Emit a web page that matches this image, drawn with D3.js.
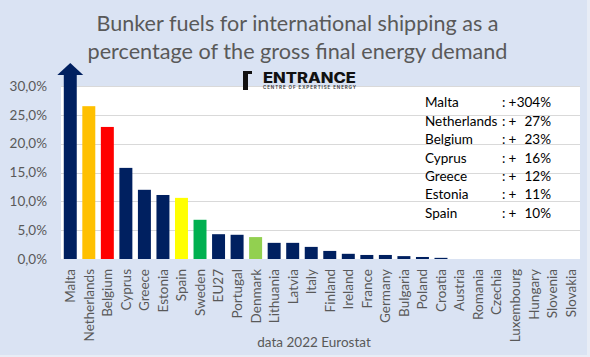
<!DOCTYPE html>
<html>
<head>
<meta charset="utf-8">
<script src="https://cdn.jsdelivr.net/npm/d3@7"></script>
<style>
  html, body { margin: 0; padding: 0; background: #e8edf6; }
  svg { display: block; }
</style>
</head>
<body>
<svg id="chart" width="590" height="357"></svg>
<script>
// ---- data ----
const categories = ["Malta","Netherlands","Belgium","Cyprus","Greece","Estonia","Spain","Sweden","EU27","Portugal","Denmark","Lithuania","Latvia","Italy","Finland","Ireland","France","Germany","Bulgaria","Poland","Croatia","Austria","Romania","Czechia","Luxembourg","Hungary","Slovenia","Slovakia"];
const values = [304, 26.5, 22.9, 15.8, 12.0, 11.1, 10.6, 6.8, 4.3, 4.2, 3.8, 2.8, 2.8, 2.1, 1.4, 0.9, 0.7, 0.7, 0.5, 0.35, 0.2, 0, 0, 0, 0, 0, 0, 0];
const yTicks = [0, 5, 10, 15, 20, 25, 30];
const legendNames = ["Malta","Netherlands","Belgium","Cyprus","Greece","Estonia","Spain"];
const legendValues = [304, 27, 23, 16, 12, 11, 10];
const titleLines = ["Bunker fuels for international shipping as a", "percentage of the gross final energy demand"];
const xTitle = "data 2022 Eurostat";

// ---- styles ----
const navy = "#002060";
const barColors = {Netherlands: "#FFC000", Belgium: "#FF0000", Spain: "#FFFF00", Sweden: "#00B050", Denmark: "#92D050"};
const font = "Lato, 'Open Sans', sans-serif";
const grey = "#595959";

const svg = d3.select("#chart");
svg.append("rect").attr("x", 0).attr("y", 0).attr("width", 587).attr("height", 355).attr("fill", "#dae3f3");

const x = d3.scaleBand().domain(categories).range([61, 580]).paddingInner(0.3).paddingOuter(0.15);
const y = d3.scaleLinear().domain([0, 30]).range([259, 86]);

// plot area
svg.append("rect")
  .attr("x", x.range()[0]).attr("y", y.range()[1])
  .attr("width", x.range()[1] - x.range()[0]).attr("height", y.range()[0] - y.range()[1])
  .attr("fill", "#ffffff");

// gridlines
svg.append("g").selectAll("line").data(yTicks.filter(d => d > 0)).join("line")
  .attr("x1", x.range()[0]).attr("x2", x.range()[1])
  .attr("y1", d => Math.round(y(d)) + 0.5).attr("y2", d => Math.round(y(d)) + 0.5)
  .attr("stroke", "#d9d9d9").attr("stroke-width", 1);

// y axis
const loc = d3.formatLocale({decimal: ",", thousands: ".", grouping: [3], currency: ["", "€"]});
const fmt = loc.format(".1f");
const yAxis = d3.axisLeft(y).tickValues(yTicks).tickSize(0).tickPadding(14).tickFormat(d => fmt(d) + "%");
const gy = svg.append("g").attr("transform", `translate(${x.range()[0]},0)`).call(yAxis);
gy.select(".domain").remove();
gy.selectAll("text").attr("font-family", font).attr("font-size", 13.5).attr("fill", grey);

// text box with increases
const lg = svg.append("g").attr("font-family", font).attr("font-size", 13.5).attr("fill", "#000");
legendNames.forEach((n, i) => {
  const by = 107.3 + i * 18.4;
  lg.append("text").attr("x", 425).attr("y", by).text(n);
  lg.append("text").attr("x", 502).attr("y", by).text(":");
  lg.append("text").attr("x", 508.5).attr("y", by).text("+");
  lg.append("text").attr("x", 551).attr("y", by).attr("text-anchor", "end").text(legendValues[i] + "%");
});

// bars
const yMax = y.domain()[1];
svg.append("g").selectAll("rect").data(categories).join("rect")
  .attr("x", d => x(d))
  .attr("width", x.bandwidth())
  .attr("y", (d, i) => values[i] > yMax ? y(yMax) - 11 : y(values[i]))
  .attr("height", (d, i) => values[i] > yMax ? y(0) - y(yMax) + 11 : y(0) - y(values[i]))
  .attr("fill", d => barColors[d] || navy);

// arrow head for clipped bars
categories.forEach((c, i) => {
  if (values[i] > yMax) {
    const cx = x(c) + x.bandwidth() / 2;
    const base = y(yMax) - 11, tip = y(yMax) - 23, hw = x.bandwidth();
    svg.append("path")
      .attr("d", `M${cx - hw},${base} L${cx},${tip} L${cx + hw},${base} Z`)
      .attr("fill", navy);
  }
});

// category labels
svg.append("g").selectAll("text").data(categories).join("text")
  .attr("transform", d => `translate(${x(d) + x.bandwidth() / 2},269) rotate(-90)`)
  .attr("dy", "0.36em")
  .attr("text-anchor", "end")
  .attr("font-family", font).attr("font-size", 13.5).attr("fill", grey)
  .text(d => d);

// x title
svg.append("text").attr("x", 314).attr("y", 347).attr("text-anchor", "middle")
  .attr("font-family", font).attr("font-size", 13.5).attr("fill", grey).text(xTitle);

// title
const titleWidths = [402, 420];
const titleBase = [30.7, 59.3];
titleLines.forEach((t, i) => {
  svg.append("text").attr("x", 297.5).attr("y", titleBase[i]).attr("text-anchor", "middle")
    .attr("font-family", font).attr("font-size", 21).attr("fill", grey)
    .attr("textLength", titleWidths[i]).attr("lengthAdjust", "spacingAndGlyphs")
    .text(t);
});

// logo
const logo = svg.append("g");
logo.append("path").attr("d", "M243,71 H252 V74 H248 V90 H243 Z").attr("fill", "#111");
logo.append("text").attr("x", 263).attr("y", 82.5)
  .attr("font-family", "Inter, Roboto, sans-serif").attr("font-weight", 800).attr("font-size", 14)
  .attr("fill", "#111").attr("textLength", 93).attr("lengthAdjust", "spacingAndGlyphs").text("ENTRANCE");
logo.append("text").attr("x", 263).attr("y", 89)
  .attr("font-family", "Inter, Roboto, sans-serif").attr("font-weight", 600).attr("font-size", 4.5)
  .attr("fill", "#333").attr("textLength", 93).attr("lengthAdjust", "spacing").text("CENTRE OF EXPERTISE ENERGY");
</script>
</body>
</html>
